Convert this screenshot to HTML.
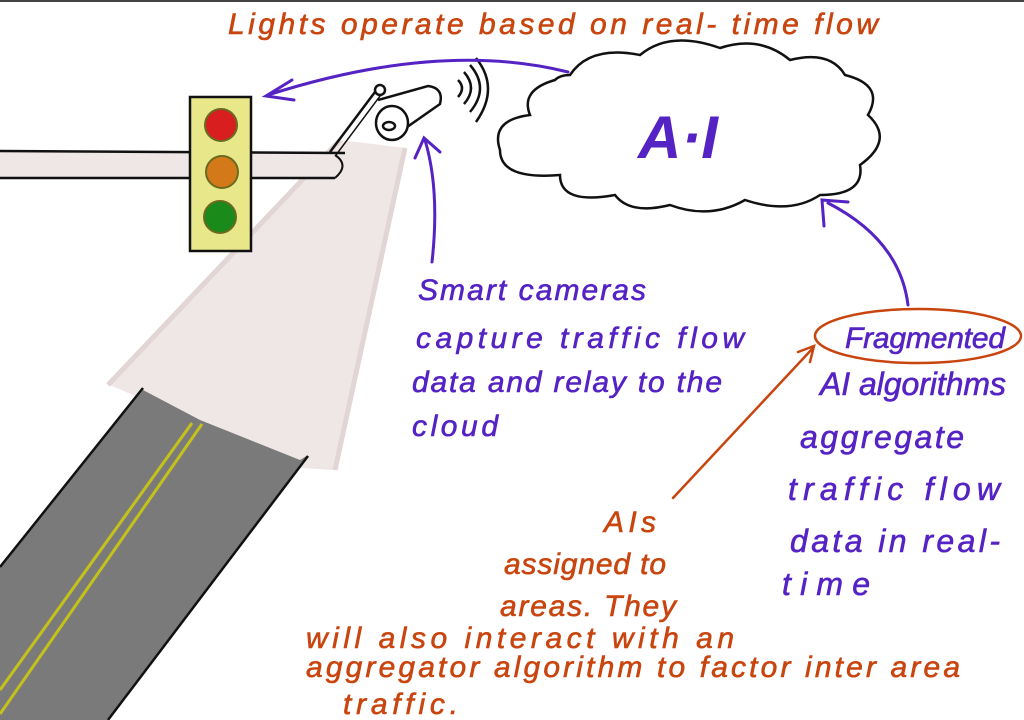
<!DOCTYPE html>
<html><head><meta charset="utf-8"><style>
html,body{margin:0;padding:0;background:#fff;}
svg{display:block}
text{font-family:"Liberation Sans",sans-serif;font-style:italic;}
.o{fill:#c9450f;font-size:30px;stroke:#c9450f;stroke-width:0.6;}
.p{fill:#5522c4;font-size:30px;stroke:#5522c4;stroke-width:0.6;}
</style></head><body>
<svg width="1024" height="720" viewBox="0 0 1024 720" xmlns="http://www.w3.org/2000/svg">
<rect width="1024" height="720" fill="#fff"/>
<line x1="0" y1="1" x2="1024" y2="1" stroke="#444" stroke-width="2"/>
<polygon points="340,140 405,148 335,470 300,468 110,385" fill="#efe6e6"/>
<line x1="340" y1="140" x2="108" y2="385" stroke="#e2d5d5" stroke-width="5"/>
<line x1="405" y1="148" x2="335" y2="470" stroke="#e2d5d5" stroke-width="5"/>
<polygon points="143,390 200,420 300,460 308,455 108,720 0,720 0,565" fill="#7a7a7a"/>
<line x1="143" y1="388" x2="0" y2="567" stroke="#111" stroke-width="2.5"/>
<line x1="308" y1="456" x2="108" y2="720" stroke="#111" stroke-width="2.5"/>
<line x1="192" y1="423" x2="0" y2="690" stroke="#c4c21a" stroke-width="3"/>
<line x1="202" y1="424" x2="0" y2="714" stroke="#c4c21a" stroke-width="3"/>
<rect x="0" y="152" width="345" height="26" fill="#efe6e6"/>
<line x1="0" y1="151" x2="345" y2="153" stroke="#111" stroke-width="2.5"/>
<line x1="0" y1="178" x2="335" y2="178" stroke="#111" stroke-width="2.5"/>
<path d="M335,155 Q350,165 335,178" fill="none" stroke="#111" stroke-width="2"/>
<line x1="330" y1="152" x2="378" y2="88" stroke="#111" stroke-width="2.5"/>
<line x1="336" y1="155" x2="383" y2="92" stroke="#111" stroke-width="1.5"/>
<rect x="190" y="97" width="61" height="154" fill="#e8e88a" stroke="#111" stroke-width="2.5"/>
<circle cx="221" cy="125" r="16" fill="#d81e1e" stroke="#6a6a20" stroke-width="2"/>
<circle cx="222" cy="172" r="16" fill="#d4791a" stroke="#6a6a20" stroke-width="2"/>
<circle cx="220" cy="217" r="16" fill="#1a8a1a" stroke="#6a6a20" stroke-width="2"/>
<g stroke="#111" stroke-width="2.5" fill="#fff">
<path d="M378,100 L428,86 Q444,88 440,104 L400,132"/>
<ellipse cx="392" cy="123" rx="16" ry="17"/>
<ellipse cx="389" cy="126" rx="6" ry="4"/>
<circle cx="380" cy="90" r="5"/>
</g>
<g fill="none" stroke="#111" stroke-width="2.5">
<path d="M458,80 Q466,88 458,97"/>
<path d="M464,72 Q478,88 464,104"/>
<path d="M470,65 Q490,88 470,112"/>
<path d="M476,58 Q500,88 476,122"/>
</g>
<path d="M570,75 Q590,45 640,55 Q670,30 720,48 Q760,35 790,60 Q830,50 845,75 Q885,85 868,115 Q895,140 860,165 Q865,195 820,195 Q790,215 745,200 Q710,220 670,205 Q630,215 615,195 Q560,205 560,175 Q500,180 500,150 Q490,120 530,115 Q520,90 555,80 Q560,75 570,75 Z" fill="#fff" stroke="#111" stroke-width="2.5"/>
<text x="638" y="158" style="font-size:60px;fill:#5522c4;font-weight:bold">A·I</text>
<g fill="none" stroke="#5522c4" stroke-width="3" stroke-linecap="round">
<path d="M568,72 Q440,40 268,95"/>
<path d="M292,80 L266,96 L294,100"/>
<path d="M432,262 Q440,190 425,140"/>
<path d="M415,158 L424,138 L440,152"/>
<path d="M908,305 Q900,240 828,203"/>
<path d="M824,226 L822,200 L848,202"/>
</g>
<g fill="none" stroke="#c9450f" stroke-width="2.5" stroke-linecap="round">
<ellipse cx="918" cy="336" rx="103" ry="27"/>
<path d="M673,498 L813,348"/>
<path d="M798,352 L814,346 L810,362"/>
</g>
<text class="o" x="228" y="34" textLength="650">Lights operate based on real- time flow</text>
<text class="p" x="418" y="300" textLength="228">Smart cameras</text>
<text class="p" x="416" y="348" textLength="328">capture traffic flow</text>
<text class="p" x="412" y="392" textLength="310">data and relay to the</text>
<text class="p" x="412" y="436" textLength="86">cloud</text>
<text class="p" x="845" y="348" textLength="160">Fragmented</text>
<text class="p" x="820" y="395" textLength="186" style="font-size:32px">AI algorithms</text>
<text class="p" x="800" y="448" textLength="164" style="font-size:32px">aggregate</text>
<text class="p" x="788" y="500" textLength="212" style="font-size:32px">traffic flow</text>
<text class="p" x="790" y="552" textLength="210" style="font-size:32px">data in real-</text>
<text class="p" x="782" y="595" textLength="88" style="font-size:32px">time</text>
<text class="o" x="604" y="532" textLength="52">AIs</text>
<text class="o" x="504" y="574" textLength="162">assigned to</text>
<text class="o" x="500" y="616" textLength="176">areas. They</text>
<text class="o" x="306" y="648" textLength="428">will also interact with an</text>
<text class="o" x="306" y="677" textLength="654">aggregator algorithm to factor inter area</text>
<text class="o" x="343" y="714" textLength="115">traffic.</text>
</svg>
</body></html>
